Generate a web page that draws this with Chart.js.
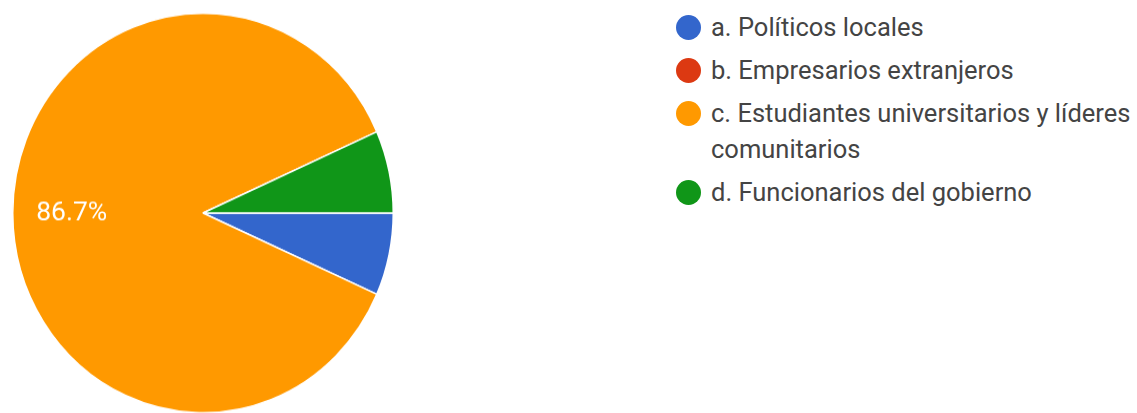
<!DOCTYPE html>
<html>
<head>
<meta charset="utf-8">
<script src="https://cdn.jsdelivr.net/npm/chart.js@4"></script>
<style>
  body { margin: 0; background: #fff; width: 1137px; height: 413px; overflow: hidden; position: relative; font-family: Roboto, Arial, sans-serif; }
  #pie-box { position: absolute; left: 2.5px; top: 12.5px; width: 400px; height: 400px; transform: scaleY(1.05); transform-origin: 50% 50%; }
  #legend { position: absolute; left: 676px; top: 9px; width: 465px; }
  .item { position: relative; padding-left: 35px; font-size: 25.5px; line-height: 36px; color: #444; margin-bottom: 7px; white-space: normal; }
  .dot { position: absolute; left: 0; top: 6px; width: 25px; height: 25px; border-radius: 50%; }
</style>
</head>
<body>
<div id="pie-box"><canvas id="pie"></canvas></div>
<div id="legend"></div>
<script>
// answers and counts
const labels = [
  "a. Políticos locales",
  "b. Empresarios extranjeros",
  "c. Estudiantes universitarios y líderes comunitarios",
  "d. Funcionarios del gobierno",
];
const counts = [1, 0, 13, 1];
const colors = ["#3366cc", "#dc3912", "#ff9900", "#109618"];

//percent label inside big slices
const pctLabels = {
  id: "pctLabels",
  afterDatasetsDraw(chart) {
    const ctx = chart.ctx;
    const meta = chart.getDatasetMeta(0);
    const total = counts.reduce((a, b) => a + b, 0);
    meta.data.forEach((arc, i) => {
      const pct = (counts[i] / total) * 100;
      if (pct < 10) return;
      const mid = (arc.startAngle + arc.endAngle) / 2;
      const r = arc.outerRadius * 0.69;
      ctx.save();
      ctx.fillStyle = "#ffffff";
      ctx.font = "26.5px Roboto, Arial, sans-serif";
      ctx.textAlign = "center";
      ctx.textBaseline = "middle";
      ctx.fillText(pct.toFixed(1) + "%", arc.x + Math.cos(mid) * r, arc.y + Math.sin(mid) * r);
      ctx.restore();
    });
  },
};

const chart = new Chart(document.getElementById("pie"), {
  type: "pie",
  plugins: [pctLabels],
  data: {
    labels: labels,
    datasets: [
      {
        data: counts,
        backgroundColor: colors,
        borderColor: "#ffffff",
        borderWidth: 1.5,
      },
    ],
  },
  options: {
    responsive: true,
    maintainAspectRatio: false,
    animation: false,
    rotation: 90,
    layout: { padding: 9 },
    plugins: {
      legend: { display: false },
      tooltip: { enabled: false },
    },
  },
});

//html legend, built from the chart's own data
const legend = document.getElementById("legend");
chart.data.labels.forEach((text, i) => {
  const item = document.createElement("div");
  item.className = "item";
  const dot = document.createElement("span");
  dot.className = "dot";
  dot.style.background = chart.data.datasets[0].backgroundColor[i];
  item.appendChild(dot);
  item.appendChild(document.createTextNode(text));
  legend.appendChild(item);
});
</script>
</body>
</html>
